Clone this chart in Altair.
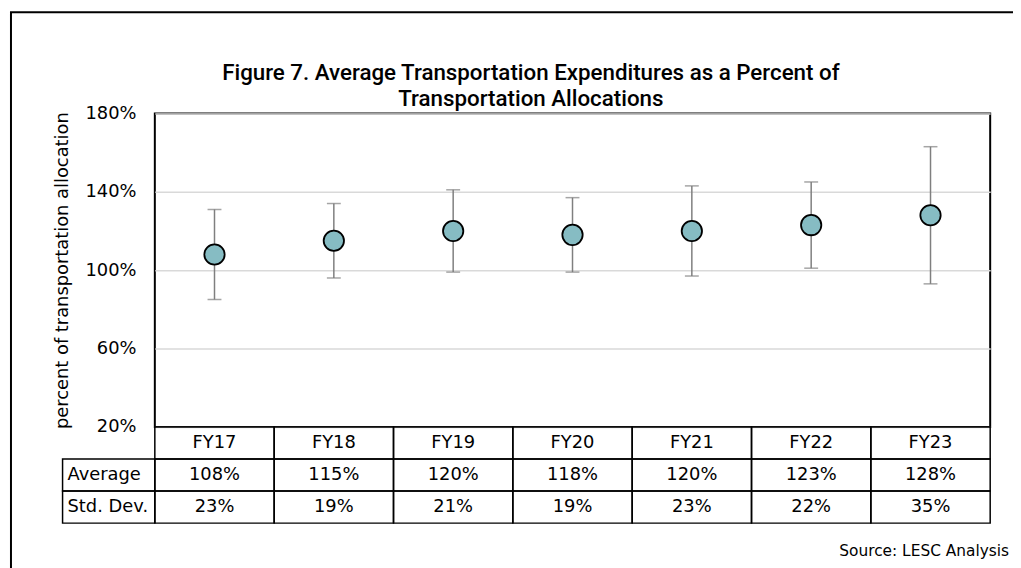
import altair as alt
import pandas as pd

# ---- data ----
years = ["FY17", "FY18", "FY19", "FY20", "FY21", "FY22", "FY23"]
averages = [108, 115, 120, 118, 120, 123, 128]
std_devs = [23, 19, 21, 19, 23, 22, 35]
y_ticks = [20, 60, 100, 140, 180]
row_names = ["hdr", "Average", "Std. Dev."]
title_lines = ["Figure 7. Average Transportation Expenditures as a Percent of",
               "Transportation Allocations"]

FONT = "DejaVu Sans"
TFONT = "Roboto"
W, H = 842, 316
TABLE_BOTTOM = 413

df = pd.DataFrame({"year": years, "avg": averages, "sd": std_devs})

table_rows = []
for yr, a, s in zip(years, averages, std_devs):
    table_rows.append({"year": yr, "row": "hdr", "txt": yr})
    table_rows.append({"year": yr, "row": "Average", "txt": f"{a}%"})
    table_rows.append({"year": yr, "row": "Std. Dev.", "txt": f"{s}%"})
tdf = pd.DataFrame(table_rows)
ldf = pd.DataFrame({"row": row_names[1:], "txt": row_names[1:]})

xscale = alt.Scale(type="band", domain=years, paddingInner=0, paddingOuter=0)
yscale = alt.Scale(domain=[20, 180], nice=False, zero=False)
rscale = alt.Scale(type="band", domain=row_names, range=[H, TABLE_BOTTOM],
                   paddingInner=0, paddingOuter=0)

base = alt.Chart(df).transform_calculate(
    lo="datum.avg - datum.sd", hi="datum.avg + datum.sd"
)

X = alt.X("year:N", scale=xscale, axis=None, bandPosition=0.5)

# invisible layer carrying the y axis with gridlines
axis_layer = base.mark_point(opacity=0).encode(
    x=X,
    y=alt.Y("avg:Q", scale=yscale,
            axis=alt.Axis(values=y_ticks, labelExpr="datum.value + '%'",
                          title="percent of transportation allocation",
                          grid=True, gridColor="#D9D9D9", gridWidth=1.5,
                          domain=False, ticks=False, labelPadding=19,
                          labelFontSize=18, labelFont=FONT, labelColor="#000",
                          titleFont=FONT, titleFontSize=18, titleFontWeight="normal",
                          titleColor="#000", titlePadding=14)),
)

rules = base.mark_rule(color="#7F7F7F", strokeWidth=1.5).encode(
    x=X, y=alt.Y("lo:Q", scale=yscale, axis=None), y2="hi:Q"
)
cap_lo = base.mark_tick(color="#7F7F7F", thickness=1.5, size=14, orient="horizontal").encode(
    x=X, y=alt.Y("lo:Q", scale=yscale, axis=None)
)
cap_hi = base.mark_tick(color="#7F7F7F", thickness=1.5, size=14, orient="horizontal").encode(
    x=X, y=alt.Y("hi:Q", scale=yscale, axis=None)
)
points = base.mark_point(filled=True, shape="circle", size=420, fill="#86BCC3",
                         stroke="#000", strokeWidth=1.8, opacity=1).encode(
    x=X, y=alt.Y("avg:Q", scale=yscale, axis=None)
)

tbase = alt.Chart(tdf)
cells = tbase.mark_rect(fill=None, stroke="#000", strokeWidth=1.5).encode(
    x=alt.X("year:N", scale=xscale, axis=None),
    y=alt.Y("row:N", scale=rscale, axis=None),
)
cell_text = tbase.mark_text(font=FONT, fontSize=18, color="#000", baseline="middle").encode(
    x=alt.X("year:N", scale=xscale, axis=None, bandPosition=0.5),
    y=alt.Y("row:N", scale=rscale, axis=None, bandPosition=0.5),
    text="txt:N",
)

lbase = alt.Chart(ldf)
label_cells = lbase.mark_rect(fill=None, stroke="#000", strokeWidth=1.5).encode(
    x=alt.value(-93), x2=alt.value(0),
    y=alt.Y("row:N", scale=rscale, axis=None),
)
label_text = lbase.mark_text(font=FONT, fontSize=18, color="#000", align="left",
                             baseline="middle").encode(
    x=alt.value(-88),
    y=alt.Y("row:N", scale=rscale, axis=None, bandPosition=0.5),
    text="txt:N",
)

misc = alt.Chart(pd.DataFrame({"t": ["Source: LESC Analysis"]}))
source = misc.mark_text(font=FONT, fontSize=15.5, color="#000", align="right",
                        baseline="alphabetic").encode(
    x=alt.value(861), y=alt.value(446), text="t:N"
)
frame = misc.mark_rect(fill=None, stroke="#000", strokeWidth=2).encode(
    x=alt.value(-145), x2=alt.value(890), y=alt.value(-102), y2=alt.value(480)
)

tdata = alt.Chart(pd.DataFrame({"line": title_lines, "i": [0, 1]}))
title1 = tdata.transform_filter("datum.i == 0").mark_text(
    font=TFONT, fontSize=22.5, fontWeight=500, color="#000", align="center",
    baseline="middle").encode(x=alt.value(379), y=alt.value(-41), text="line:N")
title2 = tdata.transform_filter("datum.i == 1").mark_text(
    font=TFONT, fontSize=22.5, fontWeight=500, color="#000", align="center",
    baseline="middle").encode(x=alt.value(379), y=alt.value(-14), text="line:N")

chart = alt.layer(
    frame, axis_layer, rules, cap_lo, cap_hi, points,
    cells, cell_text, label_cells, label_text, source, title1, title2
).resolve_scale(y="independent").properties(
    width=W, height=H,
    autosize=alt.AutoSizeParams(type="none"),
    padding={"left": 148, "top": 104, "right": 23, "bottom": 140},
    background="white",
).configure_view(stroke="#000", strokeWidth=2)

chart.save("out.html", embed_options={"renderer": "svg", "actions": False})
